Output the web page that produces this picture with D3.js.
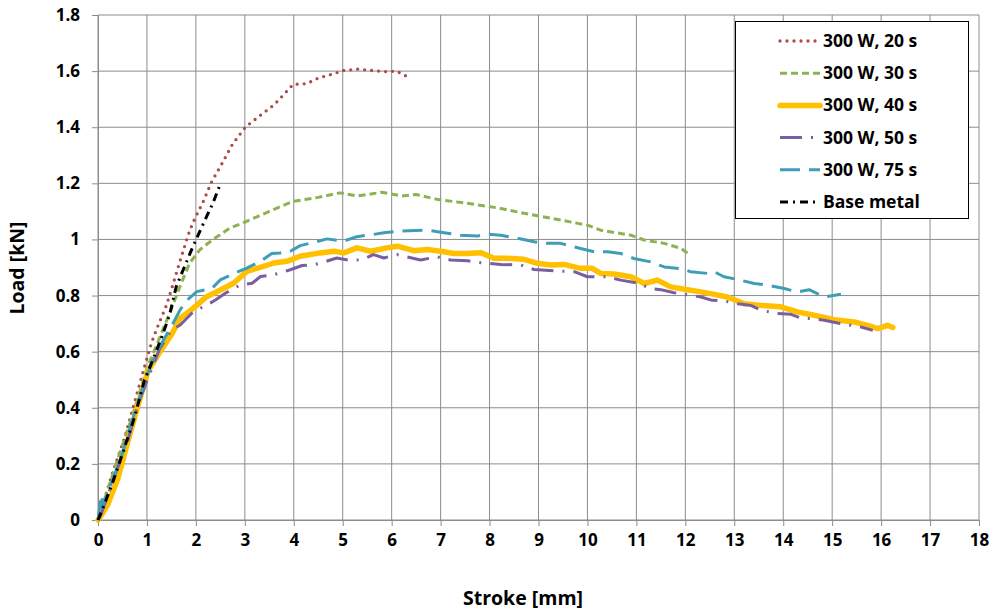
<!DOCTYPE html>
<html>
<head>
<meta charset="utf-8">
<script src="https://cdn.jsdelivr.net/npm/d3@7"></script>
<style>
  body { margin: 0; background: #fff; }
  text { font-family: "Open Sans", sans-serif; font-weight: bold; fill: #000; }
</style>
</head>
<body>
<div id="chart"></div>
<script>
// stroke [mm], load [kN] pairs
var w20 = [[0,0],[0.3,0.17],[0.55,0.297],[0.95,0.546],[1.09,0.63],[1.19,0.677],[1.33,0.736],[1.4,0.766],[1.55,0.85],[1.67,0.92],[1.84,1.015],[1.94,1.06],[2.15,1.135],[2.32,1.205],[2.5,1.26],[2.75,1.34],[3.01,1.4],[3.3,1.44],[3.6,1.48],[3.99,1.553],[4.26,1.555],[4.5,1.575],[4.8,1.59],[5.01,1.602],[5.32,1.607],[5.6,1.602],[5.9,1.598],[6.1,1.6],[6.31,1.581]];
var w30 = [[0,0],[0.35,0.19],[0.7,0.37],[1.0,0.54],[1.26,0.65],[1.47,0.74],[1.67,0.83],[1.87,0.915],[2.08,0.963],[2.35,1.0],[2.69,1.04],[3.03,1.064],[3.5,1.1],[3.99,1.136],[4.5,1.15],[4.94,1.166],[5.3,1.155],[5.8,1.168],[6.2,1.155],[6.5,1.16],[6.95,1.142],[7.5,1.13],[8.18,1.112],[8.8,1.09],[9.45,1.069],[10.0,1.051],[10.27,1.033],[10.68,1.021],[10.89,1.015],[11.16,0.998],[11.57,0.986],[11.91,0.968],[12.11,0.944]];
var w40 = [[0,0],[0.03,0.006],[0.2,0.055],[0.41,0.15],[0.61,0.28],[0.82,0.41],[1.02,0.53],[1.23,0.59],[1.5,0.66],[1.68,0.719],[1.95,0.755],[2.22,0.796],[2.5,0.82],[2.77,0.844],[3.04,0.886],[3.38,0.904],[3.59,0.916],[3.86,0.922],[4.13,0.94],[4.54,0.952],[4.82,0.958],[5.02,0.952],[5.29,0.97],[5.57,0.958],[5.9,0.97],[6.11,0.976],[6.38,0.964],[6.45,0.96],[6.73,0.964],[7.07,0.956],[7.27,0.95],[7.55,0.95],[7.82,0.953],[8.09,0.933],[8.36,0.933],[8.7,0.929],[8.98,0.915],[9.25,0.909],[9.52,0.911],[9.86,0.897],[10.1,0.897],[10.27,0.879],[10.54,0.877],[10.89,0.867],[11.16,0.843],[11.43,0.855],[11.7,0.831],[12.04,0.821],[12.32,0.813],[12.52,0.807],[12.86,0.795],[13.2,0.771],[13.54,0.765],[13.95,0.76],[14.29,0.742],[14.63,0.73],[15.04,0.714],[15.45,0.706],[15.72,0.694],[15.93,0.682],[16.13,0.694],[16.24,0.686]];
var w50 = [[0,0],[0.07,0.024],[0.41,0.19],[0.61,0.285],[0.82,0.415],[1.06,0.522],[1.26,0.611],[1.5,0.677],[1.68,0.695],[1.95,0.743],[2.19,0.763],[2.4,0.784],[2.6,0.808],[2.91,0.838],[3.15,0.844],[3.32,0.868],[3.59,0.874],[3.93,0.892],[4.17,0.907],[4.41,0.91],[4.61,0.919],[4.88,0.934],[5.16,0.925],[5.39,0.928],[5.63,0.946],[5.84,0.934],[6.11,0.946],[6.59,0.927],[6.93,0.938],[7.2,0.927],[7.55,0.924],[7.82,0.917],[8.23,0.911],[8.64,0.909],[8.91,0.893],[9.32,0.888],[9.73,0.885],[10.0,0.867],[10.41,0.867],[10.68,0.855],[11.02,0.845],[11.29,0.825],[11.5,0.821],[11.77,0.81],[12.11,0.801],[12.32,0.795],[12.55,0.783],[12.79,0.781],[13.07,0.771],[13.34,0.765],[13.54,0.748],[13.88,0.736],[14.16,0.733],[14.39,0.718],[14.57,0.718],[14.84,0.712],[15.11,0.702],[15.38,0.694],[15.59,0.688],[15.83,0.676]];
var w75 = [[0,0],[0.07,0.09],[0.1,0.05],[0.27,0.13],[0.48,0.226],[0.68,0.344],[0.92,0.475],[1.12,0.57],[1.3,0.63],[1.5,0.69],[1.68,0.75],[1.82,0.784],[2.02,0.814],[2.33,0.826],[2.5,0.856],[2.8,0.88],[3.04,0.898],[3.32,0.922],[3.55,0.95],[3.72,0.952],[3.93,0.958],[4.13,0.978],[4.41,0.99],[4.68,1.002],[5.02,0.994],[5.29,1.01],[5.63,1.018],[5.84,1.024],[6.18,1.03],[6.73,1.033],[7.07,1.024],[7.41,1.015],[7.75,1.012],[7.95,1.019],[8.23,1.015],[8.57,1.004],[8.91,0.992],[9.11,0.986],[9.45,0.986],[9.86,0.968],[10.14,0.956],[10.41,0.956],[10.68,0.95],[10.95,0.932],[11.29,0.92],[11.57,0.902],[11.91,0.896],[12.11,0.885],[12.45,0.879],[12.59,0.885],[12.79,0.867],[13.07,0.857],[13.41,0.843],[13.68,0.837],[14.02,0.825],[14.29,0.813],[14.53,0.821],[14.84,0.795],[15.18,0.805]];
var baseMetal = [[0,0],[0.03,0.012],[0.27,0.119],[0.48,0.226],[0.75,0.368],[0.95,0.5],[1.12,0.57],[1.33,0.665],[1.47,0.736],[1.6,0.833],[1.94,0.975],[2.22,1.082],[2.35,1.13],[2.49,1.194]];

var seriesNames = ["300 W, 20 s", "300 W, 30 s", "300 W, 40 s", "300 W, 50 s", "300 W, 75 s", "Base metal"];
var xTicks = d3.range(0, 19, 1);
var yTicks = [0, 0.2, 0.4, 0.6, 0.8, 1, 1.2, 1.4, 1.6, 1.8];

var series = [
  {name: seriesNames[0], data: w20, color: "#b04a47", width: 3.3, dash: "0,7", cap: "round"},
  {name: seriesNames[1], data: w30, color: "#8fb152", width: 3, dash: "7,4", cap: "butt"},
  {name: seriesNames[2], data: w40, color: "#ffc000", width: 5.5, dash: null, cap: "round"},
  {name: seriesNames[3], data: w50, color: "#7a5fa0", width: 3, dash: "22,9,2,9", cap: "butt"},
  {name: seriesNames[4], data: w75, color: "#3f9db8", width: 3, dash: "20,9", cap: "butt"},
  {name: seriesNames[5], data: baseMetal, color: "#000", width: 3, dash: "8,5,2,5", cap: "butt"}
];

var width = 997, height = 613;
var margin = {top: 15, right: 18, bottom: 93, left: 98};

var svg = d3.select("#chart").append("svg")
  .attr("width", width)
  .attr("height", height);

var x = d3.scaleLinear().domain([0, 18]).range([margin.left, width - margin.right]);
var y = d3.scaleLinear().domain([0, 1.8]).range([height - margin.bottom, margin.top]);

// grid
svg.append("g").selectAll("line").data(xTicks).enter().append("line")
  .attr("x1", d => x(d)).attr("x2", d => x(d))
  .attr("y1", y(0)).attr("y2", y(1.8))
  .attr("stroke", "#8c8c8c").attr("stroke-width", 1);
svg.append("g").selectAll("line").data(yTicks).enter().append("line")
  .attr("x1", x(0)).attr("x2", x(18))
  .attr("y1", d => y(d)).attr("y2", d => y(d))
  .attr("stroke", "#8c8c8c").attr("stroke-width", 1);

// axes
var xAxis = svg.append("g")
  .attr("transform", "translate(0," + y(0) + ")")
  .call(d3.axisBottom(x).tickValues(xTicks).tickFormat(d3.format("d")).tickSizeOuter(0).tickSize(6).tickPadding(8));
var yAxis = svg.append("g")
  .attr("transform", "translate(" + x(0) + ",0)")
  .call(d3.axisLeft(y).tickValues(yTicks).tickFormat(d => d === 0 ? "0" : (d === 1 ? "1" : d3.format(".1f")(d))).tickSizeOuter(0).tickSize(6).tickPadding(12));
[xAxis, yAxis].forEach(function(a) {
  a.selectAll("path").attr("stroke", "#8c8c8c");
  a.selectAll("line").attr("stroke", "#8c8c8c");
  a.selectAll("text").style("font-size", "17px").attr("font-family", null);
});

// lines
var line = d3.line().x(d => x(d[0])).y(d => y(d[1]));
series.forEach(function(s) {
  svg.append("path")
    .datum(s.data)
    .attr("d", line)
    .attr("fill", "none")
    .attr("stroke", s.color)
    .attr("stroke-width", s.width)
    .attr("stroke-dasharray", s.dash)
    .attr("stroke-linecap", s.cap)
    .attr("stroke-linejoin", "round");
});

// legend
var lg = svg.append("g");
lg.append("rect")
  .attr("x", 735.5).attr("y", 21.5).attr("width", 233).attr("height", 197)
  .attr("fill", "#fff").attr("stroke", "#000").attr("stroke-width", 1);
series.forEach(function(s, i) {
  var cy = 41 + i * 32.2;
  lg.append("line")
    .attr("x1", 780).attr("x2", 820).attr("y1", cy).attr("y2", cy)
    .attr("stroke", s.color)
    .attr("stroke-width", s.width)
    .attr("stroke-dasharray", s.dash)
    .attr("stroke-linecap", s.cap);
  lg.append("text")
    .attr("x", 823).attr("y", cy + 6)
    .style("font-size", "17.5px")
    .text(s.name);
});

// axis titles
svg.append("text")
  .attr("x", 523).attr("y", 605)
  .attr("text-anchor", "middle")
  .style("font-size", "19.5px")
  .text("Stroke [mm]");
svg.append("text")
  .attr("transform", "translate(24,268)rotate(-90)")
  .attr("text-anchor", "middle")
  .style("font-size", "19.5px")
  .text("Load [kN]");
</script>
</body>
</html>
